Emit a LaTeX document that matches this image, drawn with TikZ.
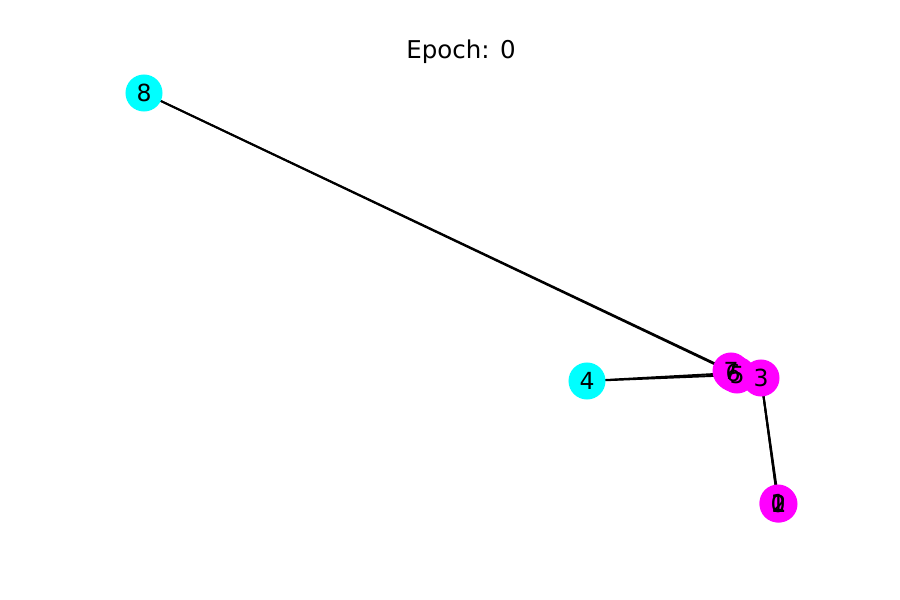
\documentclass[tikz,border=0pt]{standalone}
\usepackage{fontspec}
\setmainfont{DejaVu Sans}
\usetikzlibrary{backgrounds}
\definecolor{nodecyan}{HTML}{00FFFF}
\definecolor{nodemagenta}{HTML}{FF00FF}
\tikzset{
  vtx/.style={circle, inner sep=0pt, minimum size=0.37in, draw=none},
  cyanvtx/.style={vtx, fill=nodecyan},
  magvtx/.style={vtx, fill=nodemagenta},
  vlabel/.style={inner sep=0pt, font=\fontsize{17pt}{20pt}\selectfont, text=black},
  edge/.style={black, line width=1.4pt}
}
\begin{document}
\begin{tikzpicture}[x=0.01in, y=-0.01in]
  \useasboundingbox (0,0) rectangle (900,600);
  \node[font=\fontsize{17.7pt}{21pt}\selectfont] (title) at (461,52) {Epoch: 0};

  % vertex discs
  \node[magvtx] (n0) at (778,504) {};
  \node[magvtx] (n1) at (778,503) {};
  \node[magvtx] (n2) at (779,504) {};
  \node[magvtx] (n3) at (761,378) {};
  \node[cyanvtx] (n4) at (587,381) {};
  \node[magvtx] (n5) at (737,375) {};
  \node[magvtx] (n6) at (733,373) {};
  \node[magvtx] (n7) at (731,371) {};
  \node[cyanvtx] (n8) at (144,93) {};

  % vertex labels on top of all discs
  \node[vlabel] (l0) at (n0) {0};
  \node[vlabel] (l1) at (n1) {1};
  \node[vlabel] (l2) at (n2) {2};
  \node[vlabel] (l3) at (n3) {3};
  \node[vlabel] (l4) at (n4) {4};
  \node[vlabel] (l5) at (n5) {5};
  \node[vlabel] (l6) at (n6) {6};
  \node[vlabel] (l7) at (n7) {7};
  \node[vlabel] (l8) at (n8) {8};

  % edges beneath the discs
  \begin{scope}[on background layer]
    \draw[edge] (n8.center) -- (n7.center);
    \draw[edge] (n8.center) -- (n6.center);
    \draw[edge] (n4.center) -- (n5.center);
    \draw[edge] (n4.center) -- (n6.center);
    \draw[edge] (n3.center) -- (n0.center);
    \draw[edge] (n3.center) -- (n1.center);
    \draw[edge] (n3.center) -- (n2.center);
    \draw[edge] (n3.center) -- (n5.center);
  \end{scope}
\end{tikzpicture}
\end{document}
